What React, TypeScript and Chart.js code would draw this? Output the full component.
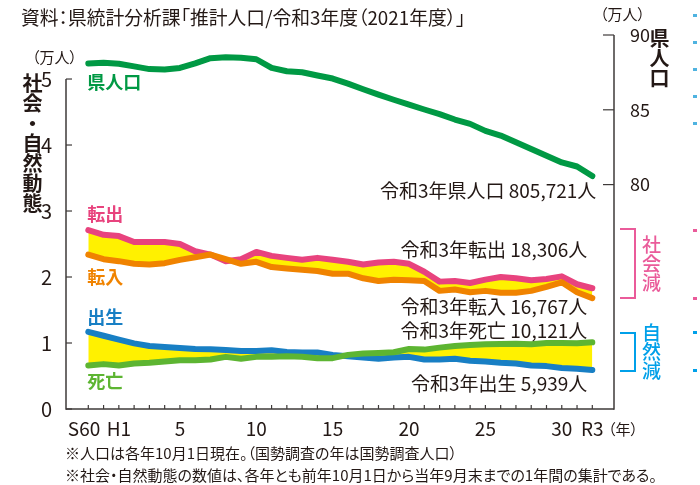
import React, { useEffect, useRef } from "react";
import { Chart, registerables } from "chart.js";
Chart.register(...registerables);

// ---- data ----
const categories = [
  "S60", "H1", "H2", "H3", "H4", "H5", "H6", "H7", "H8", "H9", "H10",
  "H11", "H12", "H13", "H14", "H15", "H16", "H17", "H18", "H19", "H20",
  "H21", "H22", "H23", "H24", "H25", "H26", "H27", "H28", "H29", "H30",
  "R1", "R2", "R3",
];
const tickLabels = [
  "S60  ", "", "H1", "", "", "", "5", "", "", "", "", "10", "", "", "", "",
  "15", "", "", "", "", "20", "", "", "", "", "25", "", "", "", "", "30",
  "", "R3",
];
// 県人口 (万人, right axis)
const population = [
  88.10, 88.14, 88.08, 87.90, 87.72, 87.70, 87.80, 88.10, 88.45, 88.52, 88.48,
  88.38, 87.80, 87.58, 87.51, 87.29, 87.09, 86.75, 86.37, 86.01, 85.67,
  85.34, 85.02, 84.71, 84.35, 84.06, 83.59, 83.28, 82.83, 82.38, 81.93,
  81.48, 81.21, 80.57,
];
// 転出 (万人)
const moveOut = [
  2.71, 2.64, 2.62, 2.53, 2.53, 2.53, 2.50, 2.39, 2.34, 2.24, 2.27,
  2.38, 2.32, 2.29, 2.26, 2.29, 2.26, 2.23, 2.19, 2.22, 2.23,
  2.20, 2.08, 1.93, 1.94, 1.91, 1.96, 2.00, 1.98, 1.95, 1.97,
  2.01, 1.89, 1.83,
];
// 転入 (万人)
const moveIn = [
  2.34, 2.27, 2.24, 2.20, 2.19, 2.21, 2.26, 2.30, 2.34, 2.27, 2.20,
  2.23, 2.15, 2.13, 2.11, 2.09, 2.05, 2.05, 1.98, 1.94, 1.96,
  1.95, 1.94, 1.79, 1.81, 1.77, 1.79, 1.76, 1.76, 1.79, 1.85,
  1.92, 1.77, 1.68,
];
// 出生 (万人)
const births = [
  1.17, 1.11, 1.05, 0.995, 0.955, 0.94, 0.925, 0.91, 0.905, 0.895, 0.88,
  0.88, 0.89, 0.865, 0.855, 0.855, 0.82, 0.80, 0.78, 0.76, 0.78,
  0.79, 0.75, 0.75, 0.76, 0.73, 0.72, 0.70, 0.69, 0.66, 0.65,
  0.62, 0.61, 0.59,
];
// 死亡 (万人)
const deaths = [
  0.66, 0.68, 0.66, 0.69, 0.70, 0.72, 0.74, 0.74, 0.75, 0.79, 0.76,
  0.79, 0.79, 0.80, 0.79, 0.77, 0.77, 0.82, 0.84, 0.85, 0.86,
  0.91, 0.90, 0.93, 0.955, 0.97, 0.98, 0.985, 0.99, 0.98, 1.00,
  1.00, 0.995, 1.01,
];
const leftTicks = [0, 1, 2, 3, 4, 5];
const rightTicks = [80, 85, 90];

// ---- styles ----
const FONT = "'Noto Sans CJK JP', 'Noto Sans', sans-serif";
const TEXT = "#231815";
const AXIS = "#3e3a39";
const YELLOW = "#fff100";
const C_POP = "#009944";
const C_OUT = "#e8437e";
const C_IN = "#f08300";
const C_BIRTH = "#187fc4";
const C_DEATH = "#5db532";
const C_PINK = "#ea5b9a";
const C_CYAN = "#00a0e9";

const decorPlugin = {
  id: "decor",
  afterDraw(chart: any) {
    const { ctx, scales } = chart;
    const x = scales.x;
    const yL = scales.yL;
    const yR = scales.yR;
    const yb = yL.getPixelForValue(0);
    ctx.save();
    ctx.strokeStyle = AXIS;
    ctx.lineWidth = 1.5;
    ctx.lineCap = "butt";
    const line = (x1: number, y1: number, x2: number, y2: number) => {
      ctx.beginPath();
      ctx.moveTo(x1, y1);
      ctx.lineTo(x2, y2);
      ctx.stroke();
    };
    line(x.left, yb, x.right, yb);
    line(x.left, yL.getPixelForValue(5), x.left, yb + 0.75);
    line(x.right, yR.getPixelForValue(90), x.right, yb + 0.75);
    ctx.lineWidth = 1.2;
    categories.forEach((_, i) => {
      const px = x.getPixelForValue(i);
      line(px, yb, px, yb - 4);
    });
    leftTicks.forEach((v) => {
      const py = yL.getPixelForValue(v);
      line(x.left, py, x.left + 6, py);
    });
    rightTicks.forEach((v) => {
      const py = yR.getPixelForValue(v);
      line(x.right, py, x.right - 11, py);
    });

    // series labels
    const pt = (ds: number, idx: number) => chart.getDatasetMeta(ds).data[idx];
    const last = categories.length - 1;
    const text = (
      s: string, px: number, py: number, color: string,
      align: CanvasTextAlign, bold: boolean, size: number
    ) => {
      ctx.font = `${bold ? "bold " : ""}${size}px ${FONT}`;
      ctx.fillStyle = color;
      ctx.textAlign = align;
      ctx.textBaseline = "middle";
      ctx.fillText(s, px, py);
    };
    // dataset order: 0 pop, 1 転入, 2 転出, 3 死亡, 4 出生
    let p = pt(0, 0);
    text("県人口", p.x - 1, p.y + 19, C_POP, "left", true, 18);
    p = pt(2, 0);
    text("転出", p.x - 1, p.y - 16, C_OUT, "left", true, 18);
    p = pt(1, 0);
    text("転入", p.x - 1, p.y + 23, C_IN, "left", true, 18);
    p = pt(4, 0);
    text("出生", p.x - 1, p.y - 15, C_BIRTH, "left", true, 18);
    p = pt(3, 0);
    text("死亡", p.x - 1, p.y + 16, C_DEATH, "left", true, 18);

    p = pt(0, last);
    text("令和3年県人口 805,721人", p.x + 4, p.y + 15, TEXT, "right", false, 19);
    p = pt(2, last);
    text("令和3年転出 18,306人", p.x - 5, p.y - 38, TEXT, "right", false, 19);
    p = pt(1, last);
    text("令和3年転入 16,767人", p.x - 5, p.y + 9, TEXT, "right", false, 19);
    p = pt(3, last);
    text("令和3年死亡 10,121人", p.x - 5, p.y - 12, TEXT, "right", false, 19);
    p = pt(4, last);
    text("令和3年出生 5,939人", p.x - 5, p.y + 14, TEXT, "right", false, 19);
    ctx.restore();
  },
};

const abs = (left: number, top: number, extra: React.CSSProperties = {}): React.CSSProperties => ({
  position: "absolute",
  left,
  top,
  whiteSpace: "nowrap",
  lineHeight: 1,
  fontFamily: FONT,
  color: TEXT,
  ...extra,
});

export default function App() {
  const ref = useRef<HTMLCanvasElement | null>(null);

  useEffect(() => {
    if (!ref.current) return;
    const tickFont = { family: FONT, size: 19 };
    const lineDs = (label: string, data: number[], color: string, axis: string, fill: any = false) => ({
      label,
      data: data.map((v, i) => ({ x: i, y: v })),
      borderColor: color,
      backgroundColor: color,
      borderWidth: 6,
      pointRadius: 0,
      tension: 0,
      borderCapStyle: "round",
      borderJoinStyle: "round",
      yAxisID: axis,
      fill,
    });
    const chart = new Chart(ref.current, {
      type: "line",
      data: {
        datasets: [
          lineDs("県人口", population, C_POP, "yR"),
          lineDs("転入", moveIn, C_IN, "yL"),
          lineDs("転出", moveOut, C_OUT, "yL", { target: "-1", above: YELLOW, below: YELLOW }),
          lineDs("死亡", deaths, C_DEATH, "yL"),
          lineDs("出生", births, C_BIRTH, "yL", { target: "-1", above: YELLOW, below: YELLOW }),
        ] as any,
      },
      options: {
        animation: false,
        responsive: false,
        maintainAspectRatio: false,
        layout: { padding: { top: 35, left: 0, right: 0, bottom: 0 } },
        plugins: {
          legend: { display: false },
          tooltip: { enabled: false },
          filler: { propagate: false },
        },
        scales: {
          x: {
            type: "linear",
            min: -1.46,
            max: 34.42,
            grid: { display: false },
            border: { display: false },
            afterBuildTicks: (s: any) => {
              s.ticks = categories.map((_, i) => ({ value: i }));
            },
            ticks: {
              autoSkip: false,
              maxRotation: 0,
              padding: 0,
              color: TEXT,
              font: tickFont,
              callback: (v: any) => tickLabels[v] ?? "",
            },
            afterFit: (s: any) => {
              s.height = 76;
            },
          },
          yL: {
            type: "linear",
            position: "left",
            min: 0,
            max: 5.667,
            grid: { display: false },
            border: { display: false },
            afterBuildTicks: (s: any) => {
              s.ticks = leftTicks.map((v) => ({ value: v }));
            },
            ticks: { padding: 6, color: TEXT, font: { family: FONT, size: 20 } },
            afterFit: (s: any) => {
              s.width = 66;
            },
          },
          yR: {
            type: "linear",
            position: "right",
            min: 65,
            max: 90,
            grid: { display: false },
            border: { display: false },
            afterBuildTicks: (s: any) => {
              s.ticks = rightTicks.map((v) => ({ value: v }));
            },
            ticks: { padding: 8, color: TEXT, font: { family: FONT, size: 18 } },
            afterFit: (s: any) => {
              s.width = 86;
            },
          },
        },
      } as any,
      plugins: [decorPlugin],
    });
    return () => chart.destroy();
  }, []);

  const palt: React.CSSProperties = { fontFeatureSettings: '"palt"' };
  const dash = (top: number, color: string) => (
    <span key={top + color} style={{ position: "absolute", left: 693, top, width: 4, height: 2.5, background: color }} />
  );

  return (
    <div style={{ position: "absolute", left: 0, top: 0, width: 700, height: 485, background: "#fff", overflow: "hidden" }}>
      <canvas ref={ref} width={700} height={485} style={{ position: "absolute", left: 0, top: 0, width: 700, height: 485 }} />
      <div style={abs(21, 7.5, { fontSize: 18.8, ...palt })}>資料：県統計分析課「推計人口/令和3年度（2021年度）」</div>
      <div style={abs(32, 48.5, { fontSize: 15, ...palt })}>（万人）</div>
      <div style={abs(600, 5.5, { fontSize: 15, ...palt })}>（万人）</div>
      <div style={abs(22, 73, { fontSize: 20, fontWeight: 700, writingMode: "vertical-rl" })}>社会・自然動態</div>
      <div style={abs(649, 28, { fontSize: 20, fontWeight: 700, writingMode: "vertical-rl" })}>県人口</div>
      <div style={abs(608, 420.5, { fontSize: 15, ...palt })}>（年）</div>
      <div style={abs(65, 444.5, { fontSize: 15, ...palt })}>※人口は各年10月1日現在。（国勢調査の年は国勢調査人口）</div>
      <div style={abs(65, 467, { fontSize: 15, ...palt })}>※社会・自然動態の数値は、各年とも前年10月1日から当年9月末までの1年間の集計である。</div>
      <div style={{ position: "absolute", left: 620, top: 228, width: 16, height: 71, boxSizing: "border-box", border: `2.5px solid ${C_PINK}`, borderLeft: "none" }} />
      <div style={{ position: "absolute", left: 620, top: 332, width: 16, height: 40, boxSizing: "border-box", border: `2.5px solid ${C_CYAN}`, borderLeft: "none" }} />
      <div style={abs(642, 235, { fontSize: 19, fontWeight: 500, color: C_PINK, writingMode: "vertical-rl" })}>社会減</div>
      <div style={abs(642, 323, { fontSize: 19, fontWeight: 500, color: C_CYAN, writingMode: "vertical-rl" })}>自然減</div>
      {[14, 41, 68, 95, 122].map((t) => dash(t, "#4fb3e0"))}
      {dash(229, C_PINK)}
      {dash(297, C_PINK)}
      {dash(331, C_CYAN)}
      {dash(369, C_CYAN)}
    </div>
  );
}
